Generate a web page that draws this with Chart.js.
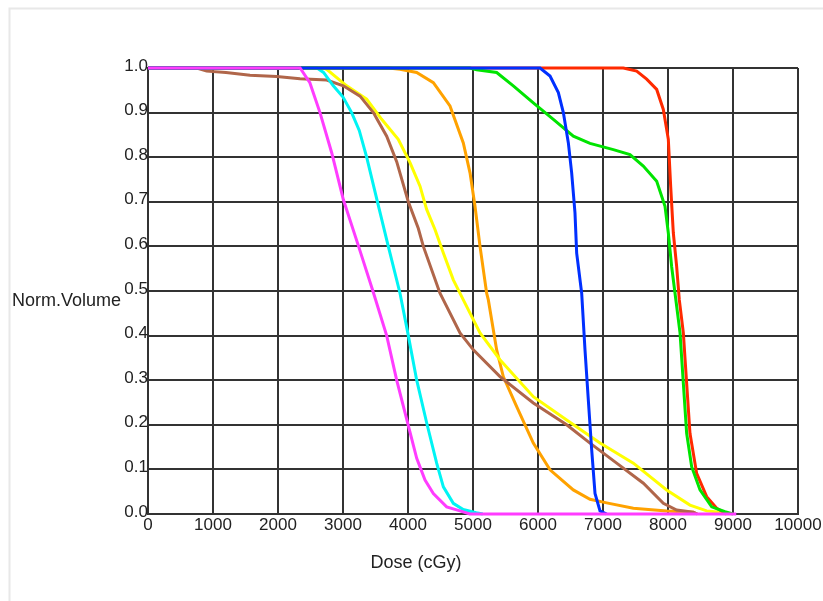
<!DOCTYPE html>
<html>
<head>
<meta charset="utf-8">
<title>DVH</title>
<script src="https://cdn.jsdelivr.net/npm/chart.js@4.4.1/dist/chart.umd.min.js"></script>
<style>
  html, body { margin: 0; padding: 0; background: #fff; }
  #wrap { position: relative; width: 823px; height: 601px; }
</style>
</head>
<body>
<div id="wrap"><canvas id="dvh" width="823" height="601"></canvas></div>
<script>
// dose in cGy, normalised volume (0..1)
const magentaDose = [0, 2340, 2490, 2646, 2826, 3005, 3240, 3460, 3672, 3826, 4005, 4134, 4262, 4390, 4595, 4800, 4950, 9050];
const magentaVol  = [1, 1, 0.967, 0.90, 0.81, 0.705, 0.60, 0.50, 0.40, 0.30, 0.198, 0.125, 0.076, 0.046, 0.016, 0.007, 0, 0];

const blueDose = [0, 6031, 6185, 6313, 6390, 6467, 6518, 6569, 6595, 6672, 6723, 6774, 6826, 6877, 6954, 7056];
const blueVol  = [1, 1, 0.982, 0.945, 0.90, 0.832, 0.765, 0.675, 0.585, 0.495, 0.368, 0.256, 0.144, 0.046, 0.007, 0];

const greenDose = [0, 4950, 5056, 5364, 5620, 5928, 6236, 6544, 6800, 7159, 7415, 7620, 7826, 7954, 8005, 8056, 8108, 8185, 8236, 8287, 8364, 8492, 8672, 8877, 9000];
const greenVol  = [1, 1, 0.996, 0.99, 0.96, 0.922, 0.885, 0.847, 0.831, 0.817, 0.806, 0.78, 0.746, 0.69, 0.63, 0.555, 0.495, 0.406, 0.293, 0.181, 0.106, 0.054, 0.016, 0.005, 0];

const redDose = [0, 7313, 7518, 7672, 7826, 7928, 8005, 8041, 8082, 8133, 8174, 8236, 8287, 8338, 8441, 8595, 8749, 8900];
const redVol  = [1, 1, 0.993, 0.975, 0.952, 0.907, 0.84, 0.735, 0.63, 0.555, 0.48, 0.406, 0.293, 0.181, 0.091, 0.039, 0.013, 0];

const cyanDose = [0, 2600, 2700, 2851, 3000, 3133, 3250, 3364, 3530, 3697, 3877, 4005, 4134, 4288, 4441, 4544, 4697, 4850, 5050, 5150];
const cyanVol  = [1, 1, 0.99, 0.96, 0.935, 0.90, 0.86, 0.80, 0.70, 0.60, 0.495, 0.40, 0.30, 0.204, 0.114, 0.061, 0.024, 0.01, 0.003, 0];

const brownDose = [0, 750, 903, 1200, 1569, 1980, 2338, 2749, 3005, 3262, 3467, 3672, 3826, 4005, 4159, 4236, 4492, 4544, 4800, 5005, 5415, 5928, 6441, 6800, 7210, 7621, 7928, 8133, 8390, 8450];
const brownVol  = [1, 1, 0.993, 0.99, 0.984, 0.981, 0.976, 0.973, 0.96, 0.937, 0.90, 0.847, 0.79, 0.70, 0.64, 0.60, 0.495, 0.48, 0.406, 0.368, 0.308, 0.249, 0.20, 0.159, 0.114, 0.069, 0.024, 0.009, 0.004, 0];

const yellowDose = [0, 2700, 2749, 3056, 3364, 3595, 3850, 4031, 4185, 4287, 4415, 4544, 4697, 4851, 5108, 5415, 5928, 6441, 6954, 7467, 7979, 8338, 8595, 8800, 8900];
const yellowVol  = [1, 1, 0.997, 0.96, 0.93, 0.885, 0.84, 0.788, 0.735, 0.683, 0.638, 0.585, 0.525, 0.48, 0.406, 0.346, 0.263, 0.211, 0.159, 0.114, 0.054, 0.02, 0.007, 0.004, 0];

const orangeDose = [0, 3700, 3877, 4133, 4390, 4646, 4851, 4954, 5031, 5108, 5210, 5236, 5364, 5466, 5672, 5928, 6185, 6543, 6800, 7056, 7467, 7979, 8390, 8450];
const orangeVol  = [1, 1, 0.997, 0.99, 0.967, 0.915, 0.832, 0.765, 0.69, 0.60, 0.495, 0.48, 0.368, 0.308, 0.241, 0.159, 0.099, 0.054, 0.033, 0.025, 0.013, 0.007, 0.004, 0];

const doseTicks = [0, 1000, 2000, 3000, 4000, 5000, 6000, 7000, 8000, 9000, 10000];
const volTicks = [0, 0.1, 0.2, 0.3, 0.4, 0.5, 0.6, 0.7, 0.8, 0.9, 1.0];

const FONT = 'Liberation Sans, Arial, sans-serif';

function curve(dose, vol, color) {
  return {
    data: dose.map((d, i) => ({ x: d, y: vol[i] })),
    borderColor: color,
    borderWidth: 3,
    showLine: true,
    pointRadius: 0,
    tension: 0,
    fill: false,
    clip: false
  };
}

// first dataset ends up on top
const datasets = [
  curve(magentaDose, magentaVol, '#ff3cff'),
  curve(blueDose, blueVol, '#0030ff'),
  curve(greenDose, greenVol, '#00e400'),
  curve(redDose, redVol, '#ff2a00'),
  curve(cyanDose, cyanVol, '#00f4f4'),
  curve(brownDose, brownVol, '#b0664a'),
  curve(yellowDose, yellowVol, '#ffff00'),
  curve(orangeDose, orangeVol, '#ffa200')
];

// frame and horizontal axis captions
const captions = {
  id: 'captions',
  beforeDraw(chart) {
    const c = chart.ctx;
    c.save();
    c.strokeStyle = '#e8e8e8';
    c.lineWidth = 2;
    c.beginPath();
    c.moveTo(9.5, 601);
    c.lineTo(9.5, 8.5);
    c.lineTo(823, 8.5);
    c.stroke();
    c.restore();
  },
  afterDraw(chart) {
    const c = chart.ctx;
    c.save();
    c.fillStyle = '#222';
    c.font = '18px ' + FONT;
    c.textBaseline = 'middle';
    c.textAlign = 'left';
    c.fillText('Norm.Volume', 12, 301);
    c.textAlign = 'center';
    c.fillText('Dose (cGy)', 416, 563);
    c.restore();
  }
};

new Chart(document.getElementById('dvh'), {
  type: 'scatter',
  data: { datasets: datasets },
  plugins: [captions],
  options: {
    responsive: false,
    animation: false,
    layout: { padding: { left: 0, top: 68, right: 25, bottom: 0 } },
    plugins: {
      legend: { display: false },
      tooltip: { enabled: false }
    },
    scales: {
      x: {
        type: 'linear',
        min: 0,
        max: 10000,
        afterBuildTicks: s => { s.ticks = doseTicks.map(v => ({ value: v })); },
        afterFit: s => { s.height = 87; },
        ticks: {
          color: '#222',
          font: { family: FONT, size: 17 },
          padding: 1,
          maxRotation: 0,
          autoSkip: false,
          callback: v => String(v)
        },
        grid: { color: '#333', lineWidth: 2, drawTicks: false },
        border: { color: '#333', width: 2 }
      },
      y: {
        type: 'linear',
        min: 0,
        max: 1,
        afterBuildTicks: s => { s.ticks = volTicks.map(v => ({ value: v })); },
        afterFit: s => { s.width = 148; },
        ticks: {
          color: '#222',
          font: { family: FONT, size: 17 },
          padding: 0,
          labelOffset: -2,
          autoSkip: false,
          callback: v => v.toFixed(1)
        },
        grid: { color: '#333', lineWidth: 2, drawTicks: false },
        border: { color: '#333', width: 2 }
      }
    }
  }
});
</script>
</body>
</html>
